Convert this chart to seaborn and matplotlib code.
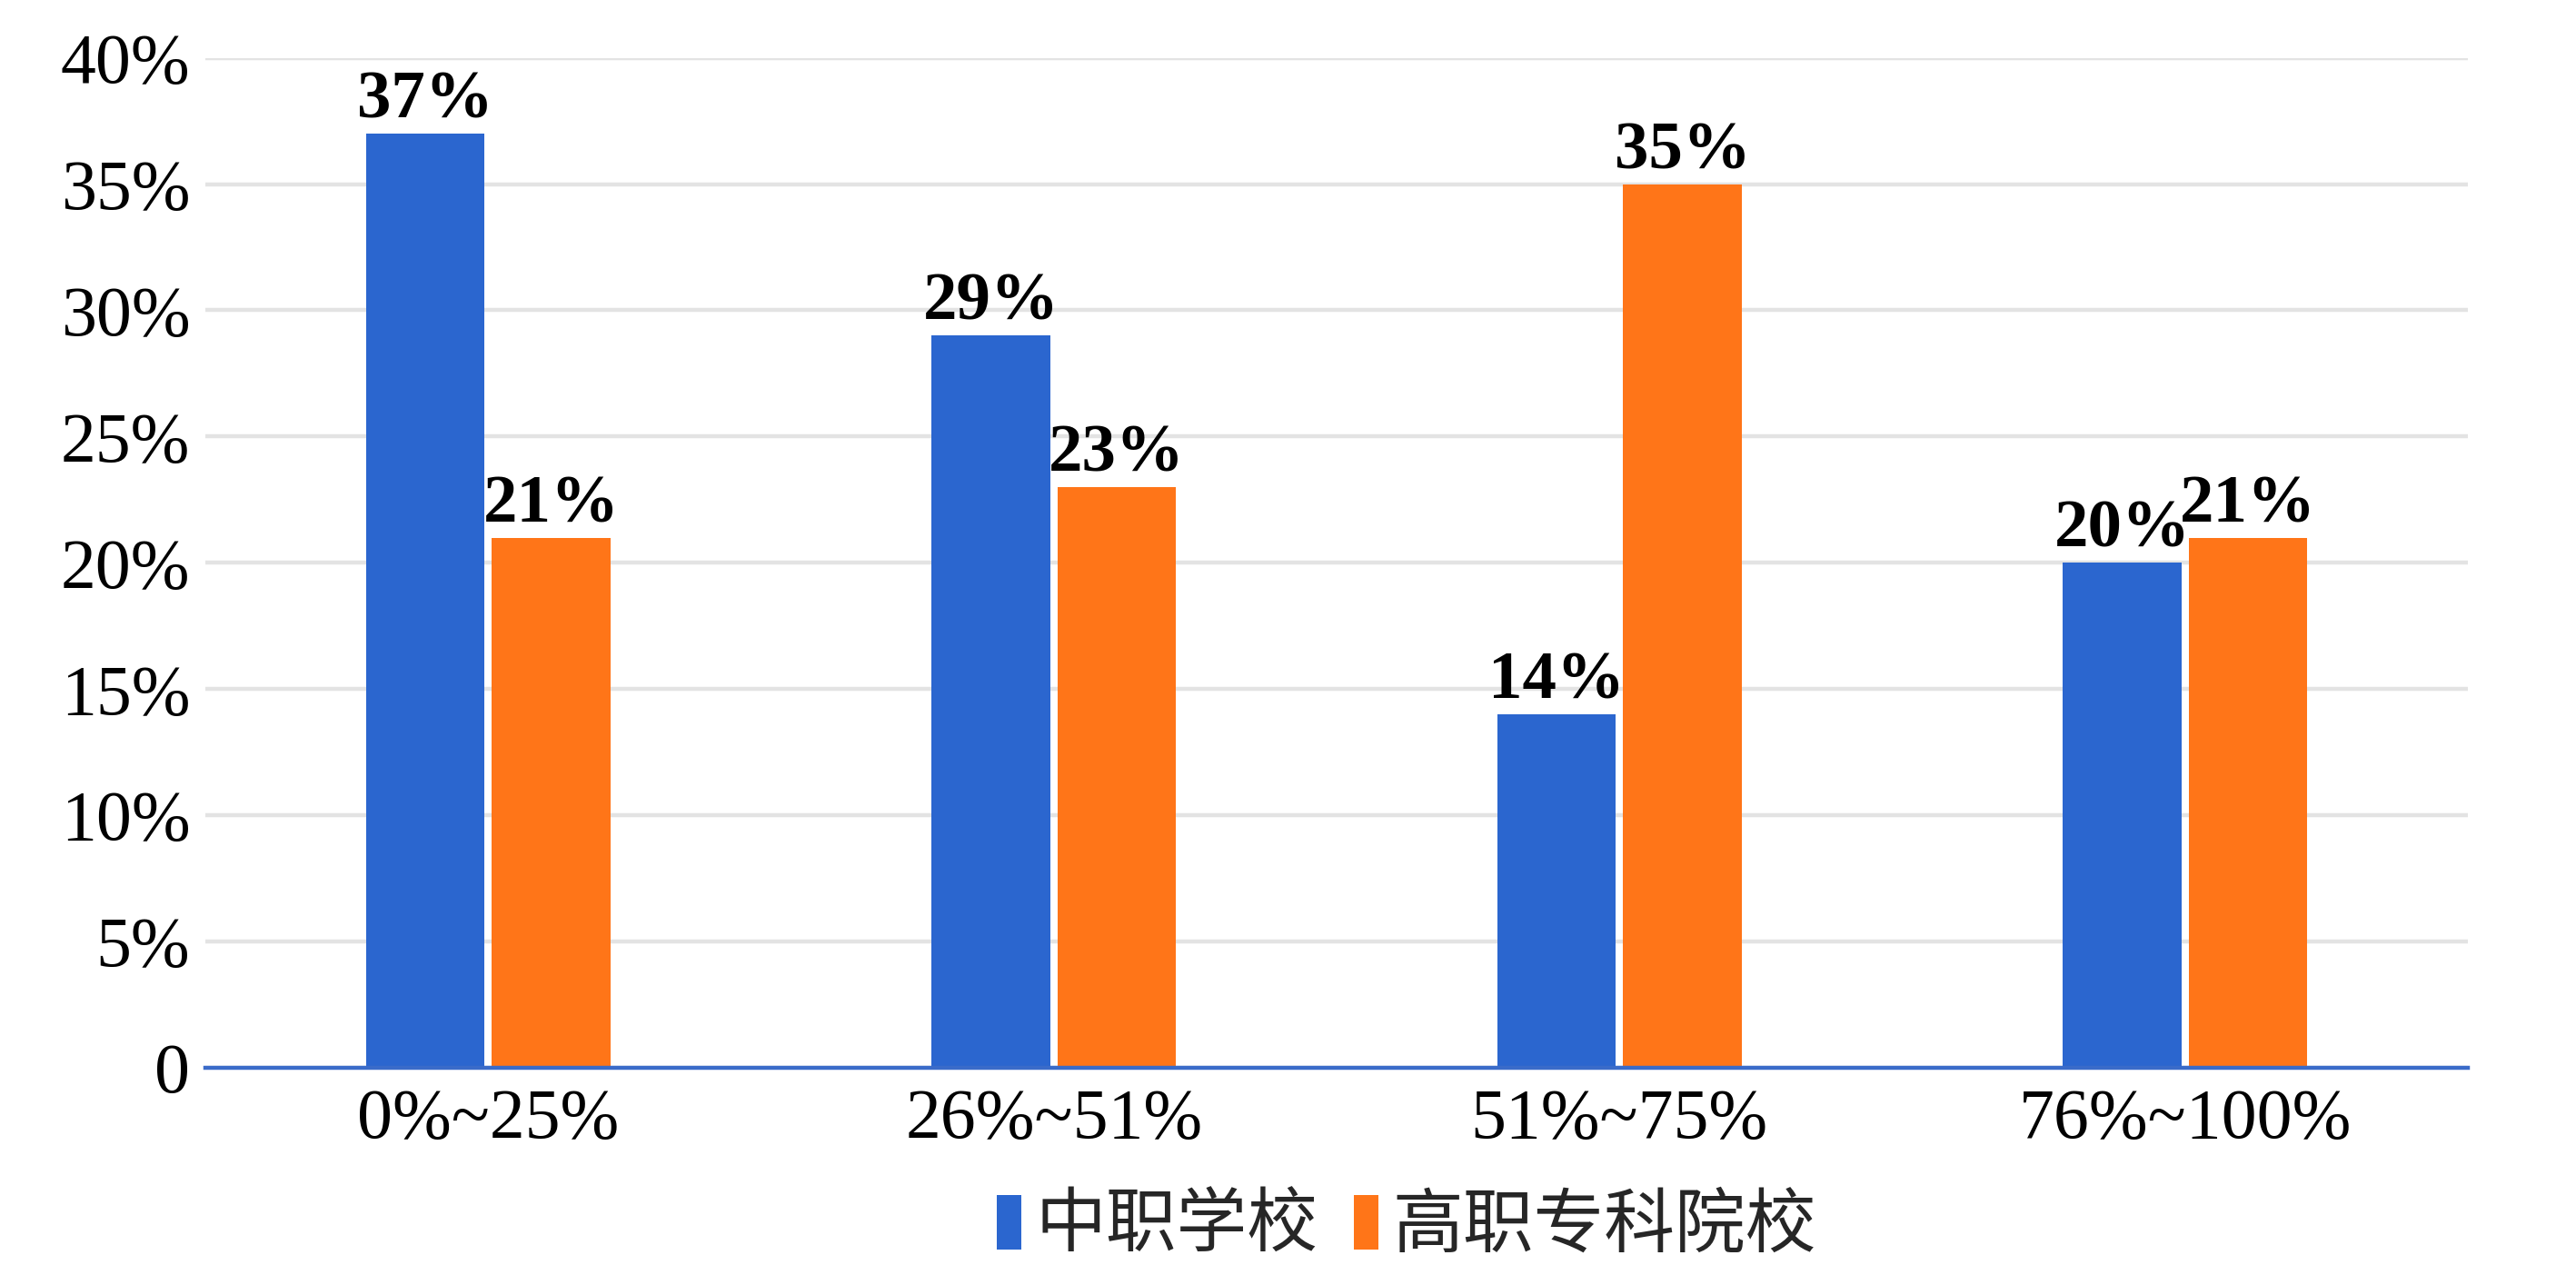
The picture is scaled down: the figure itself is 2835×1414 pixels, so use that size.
import matplotlib
matplotlib.use("Agg")
import matplotlib.pyplot as plt
import seaborn as sns
import pandas as pd
from matplotlib.ticker import FuncFormatter

categories = ["0%~25%", "26%~51%", "51%~75%", "76%~100%"]
series_names = ["中职学校", "高职专科院校"]
zhongzhi = [37, 29, 14, 20]
gaozhi = [21, 23, 35, 21]
colors = ["#2B66CF", "#FF7518"]

df = pd.DataFrame({
    "cat": categories * 2,
    "series": [series_names[0]] * 4 + [series_names[1]] * 4,
    "value": zhongzhi + gaozhi,
})

sns.set_theme(style="white")
plt.rcParams["font.family"] = ["Liberation Serif", "Noto Sans CJK SC", "DejaVu Sans"]

fig = plt.figure(figsize=(14.175, 7.07), dpi=200)
ax = fig.add_axes([0.0797, 0.169, 0.8783, 0.786])

sns.barplot(data=df, x="cat", y="value", hue="series", hue_order=series_names,
            order=categories, palette=colors, width=0.445, gap=0.056,
            saturation=1, ax=ax, legend=True, edgecolor="none", linewidth=0)

ax.set_ylim(0, 40)
ax.set_xlim(-0.5, 3.5)
ax.set_yticks(range(0, 41, 5))
ax.yaxis.set_major_formatter(FuncFormatter(lambda v, p: "0" if v == 0 else f"{int(v)}%"))
ax.grid(axis="y", color="#E3E3E3", linewidth=1.6)
ax.set_axisbelow(True)
for s in ["top", "right", "left"]:
    ax.spines[s].set_visible(False)
ax.spines["bottom"].set_color("#3A6BC9")
ax.spines["bottom"].set_linewidth(1.6)
ax.spines["bottom"].set_zorder(5)
ax.set_xlabel("")
ax.set_ylabel("")
ax.tick_params(axis="y", length=0, pad=6, labelsize=28, labelcolor="black")
ax.tick_params(axis="x", length=0, pad=8, labelsize=28, labelcolor="black")

for cont in ax.containers:
    ax.bar_label(cont, labels=[f"{int(v)}%" for v in cont.datavalues],
                 padding=0.5, fontsize=27, fontweight="bold", color="black")

handles, labels = ax.get_legend_handles_labels()
ax.get_legend().remove()
fig.legend(handles, labels, loc="center", bbox_to_anchor=(0.546, 0.045), ncol=2,
           frameon=False, handlelength=0.35, handleheight=0.8, handletextpad=0.2,
           columnspacing=0.5, prop={"family": ["Noto Sans CJK SC"], "size": 28})

fig.savefig("out.png", dpi=200, facecolor="white")
